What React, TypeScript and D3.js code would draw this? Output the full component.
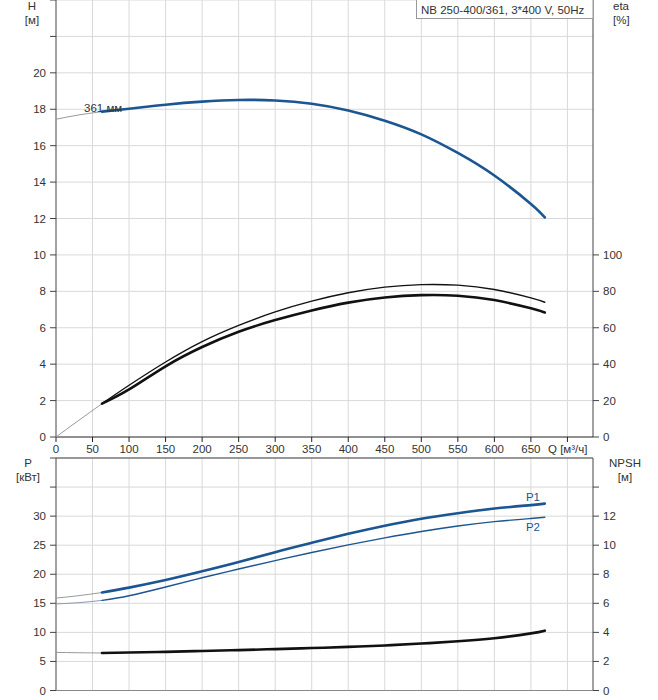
import { useEffect, useRef } from 'react'
import * as d3 from 'd3'

// flow points for the drawn part of the curves [m³/h]
const qPoints = [63, 100, 150, 200, 250, 300, 350, 400, 450, 500, 550, 600, 650, 669]
const headValues = [17.87, 18.03, 18.25, 18.42, 18.51, 18.48, 18.3, 17.93, 17.37, 16.62, 15.6, 14.36, 12.8, 12.06]
const etaUpperValues = [18.3, 28.4, 41.2, 52.4, 61.3, 68.7, 74.6, 79.2, 82.3, 83.7, 83.4, 81.0, 76.4, 74.0]
const etaLowerValues = [18.3, 26.1, 38.8, 49.4, 57.8, 64.2, 69.5, 73.8, 76.6, 77.9, 77.6, 75.2, 70.7, 68.4]
const p1Values = [16.85, 17.7, 19.0, 20.5, 22.1, 23.8, 25.4, 26.95, 28.35, 29.55, 30.5, 31.3, 31.9, 32.15]
const p2Values = [15.5, 16.3, 17.8, 19.4, 20.9, 22.35, 23.75, 25.05, 26.25, 27.35, 28.3, 29.05, 29.6, 29.8]
const npshValues = [2.58, 2.61, 2.66, 2.72, 2.78, 2.85, 2.92, 3.0, 3.1, 3.23, 3.39, 3.6, 3.93, 4.12]

// thin grey extensions below minimum flow
const qExt = [0, 30, 63]
const headExt = [17.45, 17.68, 17.87]
const etaExt = [0, 8.8, 18.3]
const p1Ext = [15.9, 16.3, 16.85]
const p2Ext = [14.9, 15.1, 15.5]
const npshExt = [2.62, 2.6, 2.58]

const qTicks = d3.range(0, 701, 50)
const qLabels = d3.range(0, 651, 50)
const headTicks = d3.range(0, 25, 2)
const headLabels = d3.range(0, 21, 2)
const etaTicks = d3.range(0, 101, 20)
const powerTicks = d3.range(0, 41, 5)
const powerLabels = d3.range(0, 31, 5)
const npshTicks = d3.range(0, 15, 2)
const npshLabels = d3.range(0, 13, 2)

const title = 'NB 250-400/361, 3*400 V, 50Hz'
const impellerLabel = '361 мм'

const blue = '#1b5592'
const grid = '#d9d9d9'
const axis = '#444'
const textColor = '#333'
const font = '"Liberation Sans", Arial, sans-serif'

export default function App() {
	const ref = useRef(null)

	useEffect(() => {
		const svg = d3.select(ref.current)
		svg.selectAll('*').remove()

		const left = 56
		const right = 593
		const x = d3.scaleLinear().domain([0, 735]).range([left, right])
		const yH = d3.scaleLinear().domain([0, 24]).range([437, 0])
		const yEta = d3.scaleLinear().domain([0, 240]).range([437, 0])
		const yP = d3.scaleLinear().domain([0, 40]).range([690.5, 458])
		const yN = d3.scaleLinear().domain([0, 16]).range([690.5, 458])

		const txt = (tx: number, ty: number, s: string, anchor = 'start') =>
			svg
				.append('text')
				.attr('x', tx)
				.attr('y', ty)
				.attr('text-anchor', anchor)
				.attr('fill', textColor)
				.style('font', '11.5px ' + font)
				.text(s)

		// grid
		const drawGrid = (y: any, ticks: number[]) => {
			const g = svg.append('g')
			const [y0, y1] = y.range()
			g.selectAll('.v')
				.data(qTicks.slice(1))
				.enter()
				.append('line')
				.attr('x1', (d: number) => x(d))
				.attr('x2', (d: number) => x(d))
				.attr('y1', y0)
				.attr('y2', y1)
				.attr('stroke', grid)
			g.selectAll('.h')
				.data(ticks.slice(1))
				.enter()
				.append('line')
				.attr('x1', left)
				.attr('x2', right)
				.attr('y1', (d: number) => y(d))
				.attr('y2', (d: number) => y(d))
				.attr('stroke', grid)
		}
		drawGrid(yH, headTicks)
		drawGrid(yP, powerTicks)

		// axes frames
		const vline = (vx: number, a: number, b: number, color = axis) =>
			svg.append('line').attr('x1', vx).attr('x2', vx).attr('y1', a).attr('y2', b).attr('stroke', color)
		const hline = (hy: number, a: number, b: number, color = axis) =>
			svg.append('line').attr('x1', a).attr('x2', b).attr('y1', hy).attr('y2', hy).attr('stroke', color)

		vline(left, 0, 437)
		vline(right, 0, 437)
		hline(437, left, right, '#222')
		vline(left, 458, 690.5)
		vline(right, 458, 690.5)
		hline(458, left, right)
		hline(690.5, left, right, '#888')

		// left ticks
		headTicks.forEach((d) => hline(yH(d), left - 6, left))
		headLabels.forEach((d) => txt(left - 10, yH(d) + 4, String(d), 'end'))
		powerTicks.forEach((d) => hline(yP(d), left - 6, left))
		powerLabels.forEach((d) => txt(left - 10, yP(d) + 4, String(d), 'end'))

		// right ticks
		etaTicks.forEach((d) => {
			hline(yEta(d), right, right + 6)
			txt(right + 10, yEta(d) + 4, String(d))
		})
		npshTicks.forEach((d) => hline(yN(d), right, right + 6))
		npshLabels.forEach((d) => txt(right + 10, yN(d) + 4, String(d)))

		// x axis labels
		qTicks.forEach((d) => vline(x(d), 437, 442, '#222'))
		qLabels.forEach((d) => txt(x(d), 453, String(d), 'middle'))
		txt(548, 453, 'Q [м³/ч]')

		// axis titles
		txt(32, 10, 'H', 'middle')
		txt(32, 24, '[м]', 'middle')
		txt(613, 10, 'eta')
		txt(613, 24, '[%]')
		txt(28, 467, 'P', 'middle')
		txt(28, 481, '[кВт]', 'middle')
		txt(625, 467, 'NPSH', 'middle')
		txt(625, 481, '[м]', 'middle')

		// title box
		svg
			.append('rect')
			.attr('x', 416.5)
			.attr('y', -1)
			.attr('width', right - 416.5)
			.attr('height', 19.5)
			.attr('fill', '#fff')
			.attr('stroke', '#999')
		txt(421, 13.5, title)

		// curves
		const drawCurve = (qs: number[], vs: number[], y: any, color: string, width: number) => {
			const line = d3
				.line<number>()
				.x((_d, i) => x(qs[i]))
				.y((d) => y(d))
				.curve(d3.curveNatural)
			svg
				.append('path')
				.attr('d', line(vs))
				.attr('fill', 'none')
				.attr('stroke', color)
				.attr('stroke-width', width)
				.attr('stroke-linecap', 'round')
		}

		drawCurve(qExt, headExt, yH, '#9a9a9a', 1)
		drawCurve(qExt, etaExt, yEta, '#9a9a9a', 1)
		drawCurve(qExt, p1Ext, yP, '#9a9a9a', 1)
		drawCurve(qExt, p2Ext, yP, '#8a9ab0', 1)
		drawCurve(qExt, npshExt, yN, '#9a9a9a', 1)

		drawCurve(qPoints, headValues, yH, blue, 2.6)
		drawCurve(qPoints, etaUpperValues, yEta, '#111', 1.4)
		drawCurve(qPoints, etaLowerValues, yEta, '#111', 2.6)
		drawCurve(qPoints, p1Values, yP, blue, 2.6)
		drawCurve(qPoints, p2Values, yP, blue, 1.4)
		drawCurve(qPoints, npshValues, yN, '#111', 2.6)

		txt(84, 112, impellerLabel)

		// power curve labels
		txt(533, 501, 'P1', 'middle').attr('fill', blue)
		txt(533, 531, 'P2', 'middle').attr('fill', blue)
	}, [])

	return (
		<svg
			ref={ref}
			width={658}
			height={700}
			style={{ position: 'absolute', left: 0, top: 0, background: '#fff' }}
		/>
	)
}
